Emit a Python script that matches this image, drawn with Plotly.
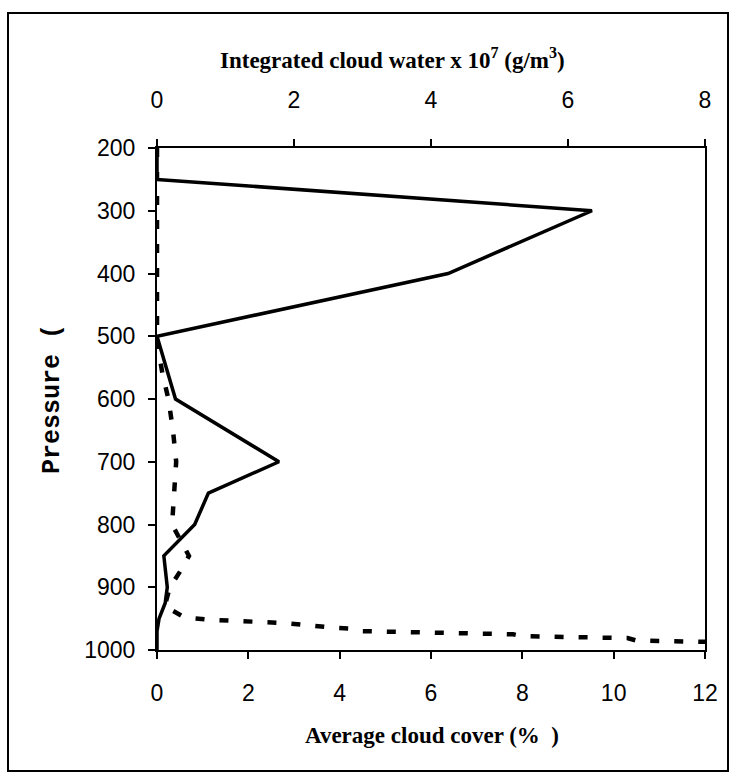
import plotly.graph_objects as go

# Solid line: integrated cloud water (top axis, x 10^7 g/m^3)
water_pressure = [200, 250, 300, 400, 500, 600, 700, 750, 800, 850, 900, 925, 950, 970, 1000]
water_values = [0, 0, 6.35, 4.25, 0, 0.27, 1.78, 0.75, 0.55, 0.1, 0.15, 0.12, 0.03, 0, 0]

# Dashed line: average cloud cover (bottom axis, %)
cover_pressure = [200, 500, 530, 560, 600, 650, 700, 750, 800, 830, 850, 870, 900, 930,
                  948, 952, 957, 964, 966, 970, 975, 978, 981, 985, 987]
cover_values = [0, 0, 0.05, 0.12, 0.25, 0.35, 0.42, 0.38, 0.33, 0.55, 0.7, 0.55, 0.28, 0.17,
                0.6, 1.2, 2.8, 3.8, 4.3, 4.5, 7.8, 8.0, 10.3, 10.5, 12]

pressure_ticks = [200, 300, 400, 500, 600, 700, 800, 900, 1000]
cover_ticks = [0, 2, 4, 6, 8, 10, 12]
water_ticks = [0, 2, 4, 6, 8]

W, H = 736, 779
L, R, T, B = 157, 31, 148, 129
pw, ph = W - L - R, H - T - B

def px(x):
    return (x - L) / pw

def py(y):
    return (H - B - y) / ph

tick_font = dict(family="Liberation Sans, Arial, sans-serif", size=23, color="black")
title_font = dict(family="Liberation Serif, serif", size=23, color="black", weight="bold")

fig = go.Figure()
fig.add_trace(go.Scatter(x=water_values, y=water_pressure, xaxis="x2", yaxis="y",
                         mode="lines", line=dict(color="black", width=3.5),
                         showlegend=False, hoverinfo="skip"))
fig.add_trace(go.Scatter(x=cover_values, y=cover_pressure, xaxis="x", yaxis="y",
                         mode="lines", line=dict(color="black", width=4.5, dash="9px,15px"),
                         showlegend=False, hoverinfo="skip"))

axis_common = dict(showline=True, linecolor="black", linewidth=2, showgrid=False,
                   zeroline=False, ticks="outside", tickcolor="black", ticklen=7,
                   tickwidth=1.5, tickfont=tick_font)

fig.update_layout(
    width=W, height=H,
    margin=dict(l=L, r=R, t=T, b=B),
    paper_bgcolor="white", plot_bgcolor="white",
    xaxis=dict(range=[0, 12], tickvals=cover_ticks, ticklabelstandoff=14, **axis_common),
    xaxis2=dict(range=[0, 8], tickvals=water_ticks, overlaying="x", side="top",
                ticklabelstandoff=22, **axis_common),
    yaxis=dict(range=[1000, 200], tickvals=pressure_ticks, mirror=True,
               ticklabelstandoff=8, **axis_common),
    shapes=[dict(type="rect", xref="paper", yref="paper",
                 x0=px(8), x1=px(728), y0=py(771), y1=py(13),
                 line=dict(color="black", width=2), fillcolor="rgba(0,0,0,0)", layer="below")],
    annotations=[
        dict(text="Integrated cloud water x 10<sup>7</sup> (g/m<sup>3</sup>)", xref="paper", yref="paper",
             x=px(392), y=py(59), showarrow=False, font=title_font, xanchor="center", yanchor="middle"),
        dict(text="Average cloud cover (%  )", xref="paper", yref="paper",
             x=px(432), y=py(735), showarrow=False, font=title_font, xanchor="center", yanchor="middle"),
        dict(text="Pressure (", xref="paper", yref="paper", textangle=-90,
             x=px(52), y=0.5, showarrow=False,
             font=dict(family="Liberation Mono, monospace", size=25, color="black", weight="bold"),
             xanchor="center", yanchor="middle"),
    ],
)

fig.write_html("out.html")
